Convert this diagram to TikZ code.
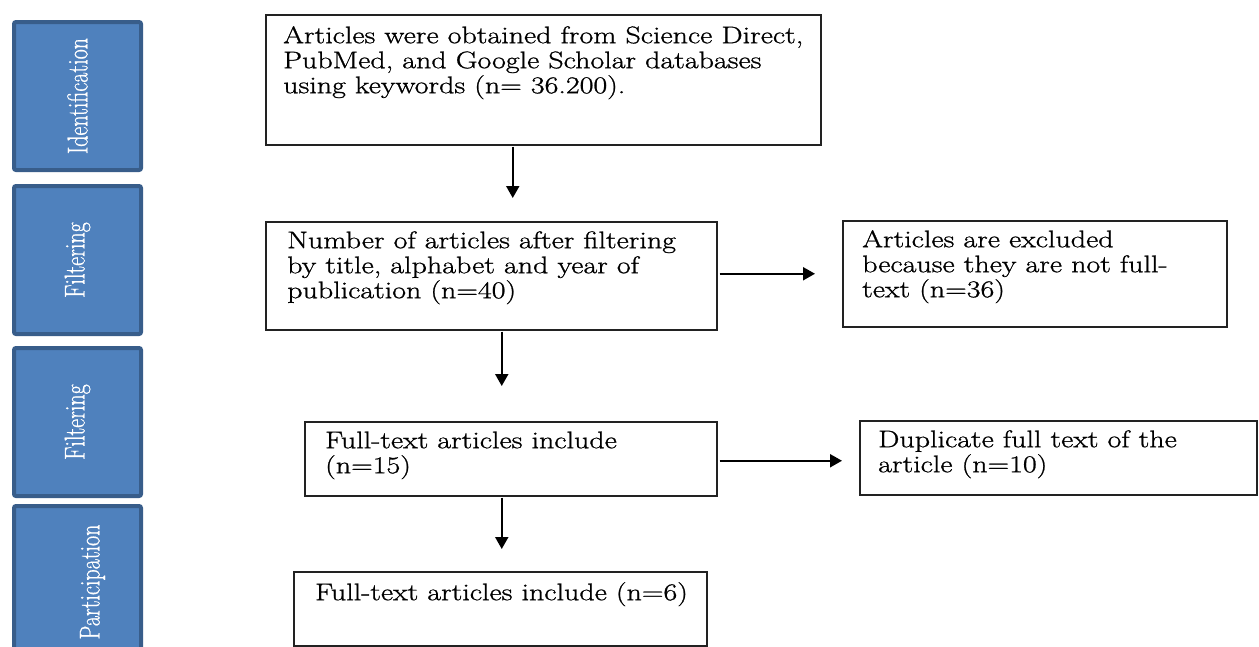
\documentclass[tikz,border=0pt]{standalone}
\usepackage{fontspec}
\setmainfont{Latin Modern Roman}[FakeStretch=1.25,FakeBold=1]
\newfontfamily\labfont{Latin Modern Roman}[FakeBold=0.8]
\usetikzlibrary{arrows.meta,calc}
\definecolor{stagefill}{HTML}{4F81BD}
\definecolor{stagedraw}{HTML}{385D8A}
\definecolor{boxline}{HTML}{222222}
\begin{document}
\begin{tikzpicture}[x=1pt,y=-1pt,
  stage/.style={draw=stagedraw, fill=stagefill, line width=4pt, rounded corners=2pt,
    inner sep=0pt, anchor=north west},
  stagelabel/.style={text=white, rotate=90, inner sep=0pt, font=\labfont\fontsize{22}{26}\selectfont},
  flowbox/.style={draw=boxline, line width=1.5pt, inner sep=0pt, anchor=north west},
  txt/.style={inner sep=0pt, anchor=north west, align=left, font=\fontsize{24}{25}\selectfont},
  arr/.style={draw=black, line width=2pt, -{Triangle[length=12pt,width=13pt]}}]
\useasboundingbox (0,0) rectangle (1259,646);
\fill[white] (0,0) rectangle (1259,646);

% stage bars
\node[stage, minimum width=127pt, minimum height=148pt] (s1) at (12,20) {};
\node[stage, minimum width=127pt, minimum height=148pt] (s2) at (12,184) {};
\node[stage, minimum width=127pt, minimum height=148pt] (s3) at (12,346) {};
\node[stage, minimum width=127pt, minimum height=164pt] (s4) at (12,504) {};
\node[stagelabel] (l1) at (s1.center) {\scalebox{1}[1.3]{Identification}};
\node[stagelabel] (l2) at (s2.center) {\scalebox{1}[1.3]{Filtering}};
\node[stagelabel] (l3) at (s3.center) {\scalebox{1}[1.3]{Filtering}};
\node[stagelabel] (l4) at ([xshift=15pt,yshift=6pt]s4.center) {\scalebox{1}[1.3]{Participation}};

% flow boxes
\node[flowbox, minimum width=555pt, minimum height=130pt] (b1) at (265,14) {};
\node[flowbox, minimum width=451pt, minimum height=108pt] (b2) at (265,221) {};
\node[flowbox, minimum width=384pt, minimum height=106pt] (b3) at (842,220) {};
\node[flowbox, minimum width=412pt, minimum height=74pt] (b4) at (304,421) {};
\node[flowbox, minimum width=397pt, minimum height=74pt] (b5) at (859,420) {};
\node[flowbox, minimum width=413pt, minimum height=74pt] (b6) at (293,571) {};

% texts
\node[txt] (t1) at (283,26) {\rule{0pt}{17pt}Articles were obtained from Science Direct,\\PubMed, and Google Scholar databases\\using keywords (n= 36.200).};
\node[txt] (t2) at (287,231) {\rule{0pt}{17pt}Number of articles after filtering\\by title, alphabet and year of\\publication (n=40)};
\node[txt] (t3) at (862,230) {\rule{0pt}{17pt}Articles are excluded\\because they are not full-\\text (n=36)};
\node[txt] (t4) at (325,431) {\rule{0pt}{17pt}Full-text articles include\\(n=15)};
\node[txt] (t5) at (878,430) {\rule{0pt}{17pt}Duplicate full text of the\\article (n=10)};
\node[txt] (t6) at (315,582) {\rule{0pt}{17pt}Full-text articles include (n=6)};

% connectors
\draw[arr, shorten <=1pt, shorten >=23pt] ([xshift=-30.5pt]b1.south) -- ([xshift=-30.5pt]b1.south |- b2.north);
\draw[arr, shorten <=2pt, shorten >=27pt] ([yshift=2pt]b2.east) -- ([yshift=2pt]b2.east -| b3.west);
\draw[arr, shorten <=1pt, shorten >=35pt] ([xshift=10.5pt]b2.south) -- ([xshift=10.5pt]b2.south |- b4.north);
\draw[arr, shorten <=2pt, shorten >=17pt] ([yshift=-2pt]b4.east) -- ([yshift=-2pt]b4.east -| b5.west);
\draw[arr, shorten <=1pt, shorten >=22pt] ([xshift=-9pt]b4.south) -- ([xshift=-9pt]b4.south |- b6.north);
\end{tikzpicture}
\end{document}
